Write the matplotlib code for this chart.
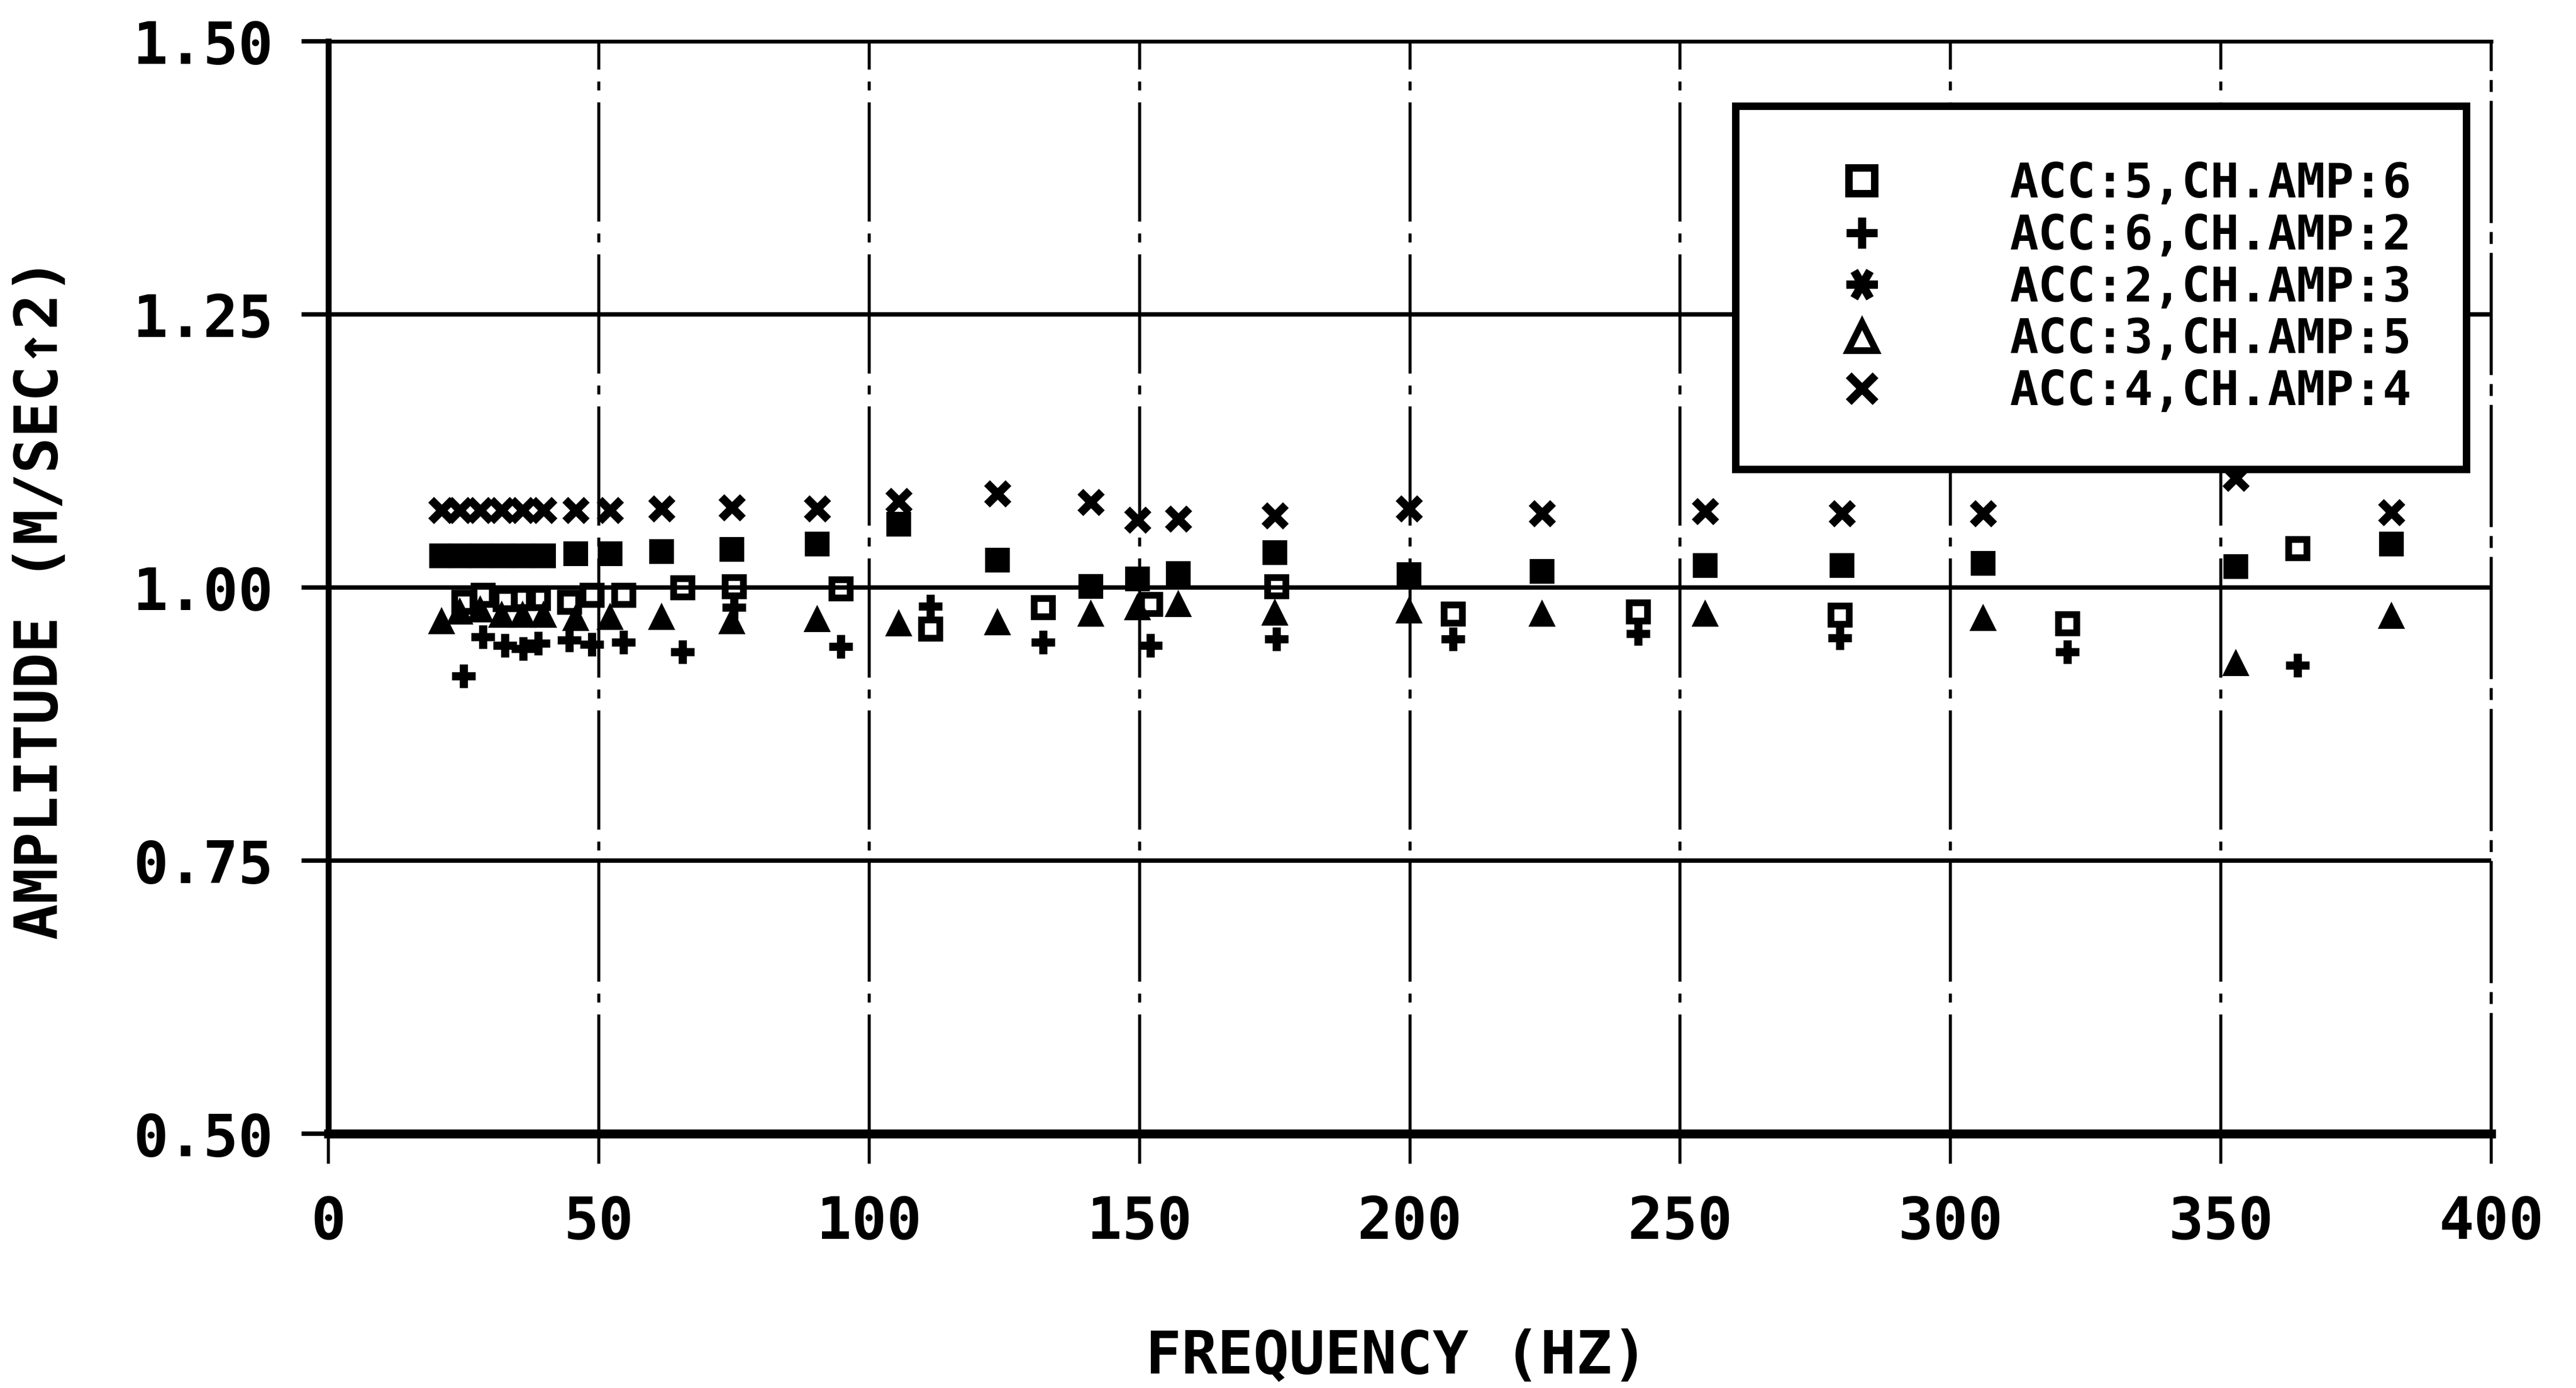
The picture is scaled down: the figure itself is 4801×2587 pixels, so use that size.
import numpy as np
import matplotlib
matplotlib.use("Agg")
import matplotlib.pyplot as plt
from matplotlib.lines import Line2D

# run 1: ACC 4, ACC 2, ACC 3 share these frequencies (Hz)
freq_a = [20.9, 24.3, 28.1, 32.0, 35.9, 39.8, 45.7, 52.1, 61.6, 74.6, 90.4, 105.5,
          123.7, 141.0, 149.6, 157.2, 175.0, 199.8, 224.5, 254.6, 279.9, 306.0, 352.8, 381.5]
acc4_amp4 = [1.071, 1.071, 1.071, 1.071, 1.071, 1.071, 1.071, 1.071, 1.072, 1.073, 1.072, 1.079,
             1.086, 1.078, 1.062, 1.063, 1.066, 1.072, 1.068, 1.070, 1.068, 1.068, 1.100, 1.069]
acc2_amp3 = [1.029, 1.029, 1.029, 1.029, 1.029, 1.029, 1.031, 1.031, 1.033, 1.035, 1.040, 1.058,
             1.025, 1.001, 1.008, 1.013, 1.032, 1.012, 1.015, 1.020, 1.020, 1.022, 1.019, 1.040]
acc3_amp5 = [0.969, 0.978, 0.980, 0.975, 0.975, 0.975, 0.972, 0.973, 0.973, 0.969, 0.971, 0.967,
             0.968, 0.976, 0.982, 0.985, 0.977, 0.979, 0.976, 0.976, np.nan, 0.972, 0.931, 0.974]

# run 2: ACC 5 and ACC 6
freq_b = [25.0, 28.6, 32.6, 36.0, 38.8, 44.5, 48.7, 54.6, 65.5, 75.0, 94.8, 111.3,
          132.2, 152.0, 175.3, 208.0, 242.2, 279.5, 321.6, 364.2]
acc5_amp6 = [0.987, 0.993, 0.989, 0.990, 0.990, 0.987, 0.993, 0.993, 1.000, 1.001, 0.999, 0.962,
             0.982, 0.985, 1.001, 0.976, 0.978, 0.975, 0.967, 1.036]
acc6_amp2 = [0.919, 0.955, 0.947, 0.944, 0.949, 0.952, 0.948, 0.950, 0.941, 0.982, 0.946, 0.983,
             0.950, 0.947, 0.953, 0.953, 0.958, 0.954, 0.941, 0.929]

x_ticks = [0, 50, 100, 150, 200, 250, 300, 350, 400]
y_ticks = [0.50, 0.75, 1.00, 1.25, 1.50]
legend_labels = ["ACC:5,CH.AMP:6", "ACC:6,CH.AMP:2", "ACC:2,CH.AMP:3",
                 "ACC:3,CH.AMP:5", "ACC:4,CH.AMP:4"]

plt.rcParams['font.family'] = ['DejaVu Sans Mono', 'DejaVu Sans']
plt.rcParams['font.weight'] = 'bold'
plt.rcParams['axes.labelweight'] = 'bold'

DASHDOT = (0, (40, 4, 3, 4))

fig = plt.figure(figsize=(48.01, 25.87), dpi=100)
ax = fig.add_axes([0.1275, 0.1832, 0.8396, 0.787])

# data
ax.plot(freq_b, acc5_amp6, ls='none', marker='s', ms=24, mfc='none', mec='k', mew=9, zorder=3)
ax.plot(freq_b, acc6_amp2, ls='none', marker='+', ms=32, mec='k', mew=11, zorder=3)
ax.plot(freq_a, acc2_amp3, ls='none', marker='s', ms=30, mfc='k', mec='k', mew=3, zorder=3)
ax.plot(freq_a, acc3_amp5, ls='none', marker='^', ms=32, mfc='k', mec='k', mew=3, zorder=3)
ax.plot(freq_a, acc4_amp4, ls='none', marker='x', ms=29, mec='k', mew=11, zorder=3)

ax.set_xlim(0, 400)
ax.set_ylim(0.5, 1.5)
ax.set_xticks(x_ticks)
ax.set_xticklabels([str(v) for v in x_ticks])
ax.set_yticks(y_ticks)
ax.set_yticklabels([f"{v:.2f}" for v in y_ticks])

ax.set_axisbelow(True)
ax.yaxis.grid(True, color='k', lw=6, ls='-')
ax.xaxis.grid(True, color='k', lw=4, ls=DASHDOT)

ax.spines['left'].set_linewidth(8)
ax.spines['bottom'].set_linewidth(12)
ax.spines['top'].set_linewidth(5)
ax.spines['right'].set_linewidth(4)
ax.spines['right'].set_linestyle(DASHDOT)

ax.tick_params(axis='y', length=36, width=6, pad=38, labelsize=78)
ax.tick_params(axis='x', length=40, width=4, pad=41, labelsize=78)

ax.set_xlabel("FREQUENCY (HZ)", fontsize=80, fontweight='bold')
ax.xaxis.set_label_coords(0.494, -0.178)
ax.set_ylabel("AMPLITUDE (M/SEC↑2)", fontsize=80, fontweight='bold', va='center')
ax.yaxis.set_label_coords(-0.133, 0.49)

handles = [
    Line2D([], [], ls='none', marker='s', ms=34, mfc='none', mec='k', mew=10),
    Line2D([], [], ls='none', marker='+', ms=42, mec='k', mew=11),
    Line2D([], [], ls='none', marker=(6, 2, 90), ms=42, mec='k', mew=11),
    Line2D([], [], ls='none', marker='^', ms=38, mfc='none', mec='k', mew=9),
    Line2D([], [], ls='none', marker='x', ms=36, mec='k', mew=11),
]
leg = ax.legend(handles, legend_labels, loc='upper right', bbox_to_anchor=(0.9886, 0.9406),
                borderaxespad=0, frameon=True, fancybox=False, edgecolor='black', framealpha=1,
                prop={'family': 'DejaVu Sans Mono', 'weight': 'bold', 'size': 64},
                handlelength=3.0, handletextpad=1.6, borderpad=1.15, labelspacing=0.12)
leg.get_frame().set_linewidth(10)

fig.savefig("out.png", dpi=100)
